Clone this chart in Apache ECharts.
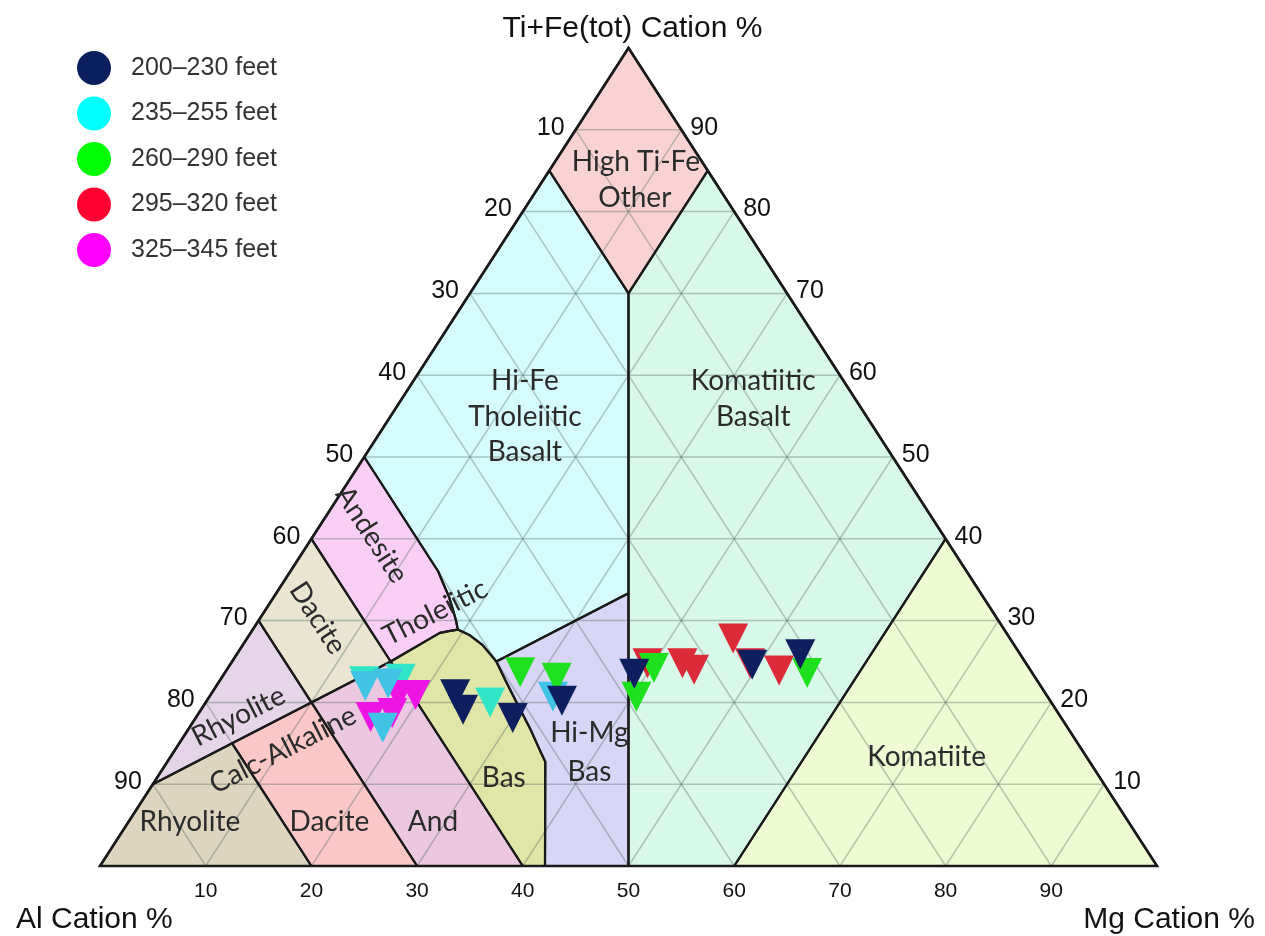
<!DOCTYPE html>
<html><head><meta charset="utf-8">
<script src="https://cdn.jsdelivr.net/npm/echarts@6/dist/echarts.min.js"></script>
<style>html,body{margin:0;padding:0;background:#fff}#c{width:1265px;height:936px}</style>
</head><body><div id="c"></div>
<script>
// ---------- DATA (each point: [Al %, Mg %, Ti+Fe(tot) %]) ----------
const seriesNames = ['200–230 feet', '235–255 feet', '260–290 feet', '295–320 feet', '325–345 feet'];
const navyPts = [[55.9,23.1,21.0],[56.1,24.8,19.1],[51.9,30.0,18.1],[46.2,33.6,20.2],[37.7,38.8,23.5],[26.0,49.4,24.6],[20.8,53.3,25.9]];
const cyanPtsTurq = [[63.7,13.7,22.6],[60.1,17.0,22.9],[53.1,26.9,20.0]];
const cyanPtsBlue = [[63.9,14.1,22.0],[61.6,16.1,22.3],[64.8,18.3,16.9],[46.8,32.5,20.7]];
const greenPts = [[48.4,27.9,23.7],[45.3,31.7,23.0],[35.5,40.3,24.2],[38.9,40.4,20.7],[21.3,55.1,23.6]];
const redPts = [[35.8,39.4,24.8],[32.5,42.7,24.8],[31.8,44.2,24.0],[26.2,46.0,27.8],[26.1,49.1,24.8],[23.8,52.3,23.9]];
const magentaPts = [[61.3,17.8,20.9],[59.7,19.4,20.9],[65.3,16.5,18.2],[63.0,18.3,18.7]];
const tickValues = [10,20,30,40,50,60,70,80,90];

// Field boundaries (Jensen cation plot), vertices as [Al, Mg, Ti]
const andesiteCurve = [[50,14,36],[50.25,15.15,34.6],[50.5,16.57,32.9],[50.95,17.75,31.3],[51.3,18.65,30.05],[51.7,19.4,28.9]];
const basTopRight = [[51.7,19.4,28.9],[50.9,20.9,28.2],[50.3,22.7,27.0],[50,25,25]];
const basRightEdge = [[50,25,25],[50.3,27,22.7],[50.6,29.5,19.9],[50.9,32.25,16.85],[51.3,34.5,14.2],[51.5,35.75,12.75],[57.9,42.1,0]];
const basTopLeft = [[60,15,25],[53.6,17.9,28.5],[52.5,18.75,28.75],[51.7,19.4,28.9]];
const centroid = [33.33,33.33,33.34];

const regionVerts = [
  // High Ti-Fe Other
  [[0,0,100],[15,0,85],[15,15,70],[0,15,85]],
  // Hi-Fe Tholeiitic Basalt
  [[50,0,50],[15,0,85],[15,15,70],centroid].concat(basRightEdge.slice(0,1), basTopRight.slice().reverse().slice(1), andesiteCurve.slice().reverse().slice(1)),
  // Komatiitic Basalt
  [[0,15,85],[15,15,70],centroid,[50,50,0],[40,60,0],[0,60,40]],
  // Komatiite
  [[0,60,40],[40,60,0],[0,100,0]],
  // Tholeiitic Andesite
  [[50,0,50]].concat(andesiteCurve, basTopLeft.slice().reverse().slice(1), [[60,0,40]]),
  // Tholeiitic Dacite
  [[60,0,40],[60,15,25],[70,10,20],[70,0,30]],
  // Tholeiitic Rhyolite
  [[70,0,30],[70,10,20],[80,5,15],[90,0,10]],
  // Calc-alkaline Rhyolite
  [[90,0,10],[80,5,15],[80,20,0],[100,0,0]],
  // Calc-alkaline Dacite
  [[80,5,15],[70,10,20],[70,30,0],[80,20,0]],
  // Calc-alkaline Andesite
  [[70,10,20],[60,15,25],[60,40,0],[70,30,0]],
  // Basalt
  basTopLeft.concat(basTopRight.slice(1), basRightEdge.slice(1), [[60,40,0]]),
  // High-Mg Basalt
  [[50,25,25],centroid,[50,50,0]].concat(basRightEdge.slice().reverse())
];

// Field label texts and positions in plot units [x = Mg + Ti/2, y = Ti], rotation in degrees
const fieldLabels = [
  ['High Ti-Fe',[50.7,86.1],0], ['Other',[50.6,81.7],0],
  ['Hi-Fe',[40.2,59.3],0], ['Tholeiitic',[40.2,54.9],0], ['Basalt',[40.2,50.6],0],
  ['Komatiitic',[61.8,59.3],0], ['Basalt',[61.8,54.9],0],
  ['Komatiite',[78.2,13.3],0],
  ['Hi-Mg',[46.3,16.3],0], ['Bas',[46.3,11.5],0],
  ['Bas',[38.2,10.8],0], ['And',[31.5,5.4],0], ['Dacite',[21.7,5.4],0], ['Rhyolite',[8.5,5.4],0],
  ['Andesite',[25.7,40.5],-57.1], ['Dacite',[20.6,30.3],-57.1],
  ['Tholeiitic',[31.7,31.0],26.9], ['Rhyolite',[13.1,18.3],26.9], ['Calc-Alkaline',[17.3,14.2],26.9]
];

// ---------- STYLE ----------
const regionColors = ['#f9d3d3','#d6fbfd','#d8f8ea','#eefbd3','#f9cff7','#e9e5d0','#e6d4e9','#ddd5be','#fbc7c7','#ebc7e0','#e0e6a8','#d8d6f6'];
const legendColors = ['#0b1f5e','#00ffff','#00ff00','#ff0033','#ff00ff'];
const sideFont = 'Liberation Sans';
const fieldFont = 'Lato';

function tp(a) { return [a[1] + a[2] / 2, a[2]]; }

const chart = echarts.init(document.getElementById('c'));

function renderBackground(params, api) {
  const P = a => api.coord(tp(a));
  const ch = [];
  regionVerts.forEach((vs, i) => {
    ch.push({type: 'polygon', shape: {points: vs.map(P)}, style: {fill: regionColors[i], stroke: null}});
  });
  tickValues.forEach(v => {
    [[[100 - v, 0, v], [0, 100 - v, v]], [[v, 0, 100 - v], [v, 100 - v, 0]], [[0, v, 100 - v], [100 - v, v, 0]]].forEach(seg => {
      const p1 = P(seg[0]), p2 = P(seg[1]);
      ch.push({type: 'line', shape: {x1: p1[0], y1: p1[1], x2: p2[0], y2: p2[1]},
        style: {stroke: 'rgba(70,95,85,0.34)', lineWidth: 1.5}});
    });
  });
  regionVerts.forEach(vs => {
    ch.push({type: 'polygon', shape: {points: vs.map(P)}, style: {fill: 'transparent', stroke: '#1a1a1a', lineWidth: 2.2, lineJoin: 'round'}});
  });
  ch.push({type: 'polygon', shape: {points: [[100,0,0],[0,100,0],[0,0,100]].map(P)},
    style: {fill: 'transparent', stroke: '#1a1a1a', lineWidth: 2.6, lineJoin: 'miter'}});
  // tick labels
  tickValues.forEach(v => {
    const l = P([v, 0, 100 - v]);
    ch.push({type: 'text', x: l[0] - 11, y: l[1] - 2, style: {text: String(v), fill: '#111', fontSize: 25, fontFamily: sideFont, align: 'right', verticalAlign: 'middle'}});
    const r = P([0, 100 - v, v]);
    ch.push({type: 'text', x: r[0] + 9, y: r[1] - 2, style: {text: String(v), fill: '#111', fontSize: 25, fontFamily: sideFont, align: 'left', verticalAlign: 'middle'}});
    const b = P([100 - v, v, 0]);
    ch.push({type: 'text', x: b[0], y: b[1] + 25, style: {text: String(v), fill: '#111', fontSize: 21, fontFamily: sideFont, align: 'center', verticalAlign: 'middle'}});
  });
  // field labels
  fieldLabels.forEach(f => {
    const p = api.coord(f[1]);
    ch.push({type: 'text', x: p[0], y: p[1], rotation: f[2] * Math.PI / 180,
      style: {text: f[0], fill: '#2b2b2b', fontSize: 28, fontFamily: fieldFont, align: 'center', verticalAlign: 'middle'}});
  });
  return {type: 'group', children: ch};
}

function scatter(name, pts, color, z) {
  return {type: 'scatter', name: name, data: pts.map(tp), symbol: 'triangle', symbolRotate: 180,
    symbolSize: [30, 30], itemStyle: {color: color, opacity: 1}, z: z, silent: true};
}

chart.setOption({
  animation: false,
  backgroundColor: '#fff',
  grid: {left: 100, right: 108, top: 48, bottom: 70},
  xAxis: {type: 'value', min: 0, max: 100, show: false},
  yAxis: {type: 'value', min: 0, max: 100, show: false},
  legend: {
    orient: 'vertical', left: 72, top: 46, itemWidth: 64, itemHeight: 34, itemGap: 11.5, icon: 'circle',
    selectedMode: false,
    textStyle: {fontSize: 25, color: '#333', fontFamily: sideFont, padding: [0, 0, 0, 0]},
    data: seriesNames.map((n, i) => ({name: n, itemStyle: {color: legendColors[i]}}))
  },
  graphic: [
    {type: 'text', left: 'center', top: 14, style: {text: 'Ti+Fe(tot) Cation %', fill: '#111', fontSize: 30, fontFamily: sideFont}},
    {type: 'text', left: 16, top: 905, style: {text: 'Al Cation %', fill: '#111', fontSize: 30, fontFamily: sideFont}},
    {type: 'text', right: 10, top: 905, style: {text: 'Mg Cation %', fill: '#111', fontSize: 30, fontFamily: sideFont}}
  ],
  series: [
    {type: 'custom', name: 'fields', data: [[0, 0]], renderItem: renderBackground, silent: true, clip: false, z: 1},
    scatter(seriesNames[1], cyanPtsTurq, '#30e6c6', 2),
    scatter(seriesNames[4], magentaPts, '#ee14e4', 3),
    scatter(seriesNames[1], cyanPtsBlue, '#40c3e4', 4),
    scatter(seriesNames[3], redPts, '#dc2a38', 5),
    scatter(seriesNames[2], greenPts, '#1fe01f', 6),
    scatter(seriesNames[0], navyPts, '#0d1f5f', 7)
  ]
});
</script>
</body></html>
